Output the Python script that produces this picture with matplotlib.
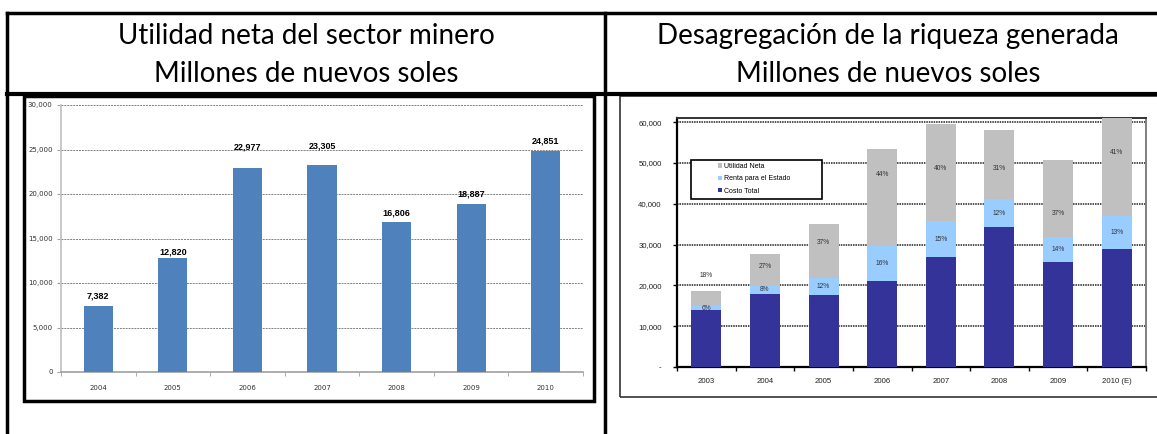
import matplotlib
matplotlib.use('Agg')
import matplotlib.pyplot as plt
from matplotlib.lines import Line2D
from matplotlib.patches import Rectangle
from matplotlib.ticker import FuncFormatter, FixedLocator
import numpy as np

W, H = 1157, 434

# left chart data: utilidad neta (millones de nuevos soles)
years_left = ['2004', '2005', '2006', '2007', '2008', '2009', '2010']
utilidad_neta = [7382, 12820, 22977, 23305, 16806, 18887, 24851]
pos_lab_left = [8500, 13460, 25300, 25400, 17850, 19950, 25900]

# right chart data: desagregacion de la riqueza
years_right = ['2003', '2004', '2005', '2006', '2007', '2008', '2009', '2010 (E)']
costo_total = [13900, 17800, 17600, 21000, 26900, 34300, 25700, 28900]
renta_estado = [1100, 2150, 4300, 8700, 8750, 6800, 6100, 8100]
utilidad = [3600, 7650, 13100, 23700, 23850, 16950, 18900, 24100]
pct_renta = ['6%', '8%', '12%', '16%', '15%', '12%', '14%', '13%']
pct_util = ['18%', '27%', '37%', '44%', '40%', '31%', '37%', '41%']
pos_pct_util = [22300, 24500, 30400, 47100, 48600, 48600, 37500, 52600]


def px_rect(x0, y0, x1, y1):
    # pixel box (top-left origin) -> figure fraction rect
    return [x0 / W, 1 - y1 / H, (x1 - x0) / W, (y1 - y0) / H]


def fline(x0, y0, x1, y1, lw=2.5, color='black'):
    fig.add_artist(Line2D([x0 / W, x1 / W], [1 - y0 / H, 1 - y1 / H],
                          lw=lw, color=color, solid_capstyle='projecting'))


fig = plt.figure(figsize=(W / 100, H / 100), dpi=100)

# table lines
fline(7, 13, W, 13)
fline(7, 94, W, 94, lw=3)
fline(7, 13, 7, H)
fline(605, 13, 605, H)

# titles
tfont = dict(family='Lato', fontsize=20, ha='center', va='center')
fig.text(306 / W, 1 - 36 / H, 'Utilidad neta del sector minero', **tfont)
fig.text(306 / W, 1 - 74 / H, 'Millones de nuevos soles', **tfont)
fig.text(888 / W, 1 - 36 / H, 'Desagregación de la riqueza generada', **tfont)
fig.text(888 / W, 1 - 74 / H, 'Millones de nuevos soles', **tfont)

# chart frames
fig.add_artist(Rectangle((24 / W, 1 - 401 / H), 570 / W, 305 / H,
                         transform=fig.transFigure, fill=False, lw=2.5, ec='black'))
fig.add_artist(Rectangle((620 / W, 1 - 397 / H), 560 / W, 301 / H,
                         transform=fig.transFigure, fill=False, lw=1.2, ec='#333333'))

# ---- left chart ----
ax1 = fig.add_axes(px_rect(61, 105, 583, 372))
x1 = np.arange(len(years_left))
ax1.bar(x1, utilidad_neta, width=0.39, color='#4F81BD', zorder=3)
for xi, v in zip(x1, utilidad_neta):
    ax1.text(xi, pos_lab_left[xi], f'{v:,}', ha='center', va='center', fontsize=6.5,
             fontweight='bold', family='Liberation Sans', zorder=4)
ax1.set_xlim(-0.5, len(years_left) - 0.5)
ax1.set_ylim(0, 30000)
ax1.set_yticks(np.arange(0, 30001, 5000))
ax1.yaxis.set_major_formatter(FuncFormatter(lambda v, p: f'{int(v):,}'))
ax1.set_xticks(x1)
ax1.set_xticklabels(years_left)
ax1.xaxis.set_minor_locator(FixedLocator(np.arange(-0.5, len(years_left), 1)))
ax1.tick_params(axis='x', which='major', length=0, pad=9, labelsize=5, labelcolor='#333333')
ax1.tick_params(axis='x', which='minor', length=3, color='#A0A0A0')
ax1.tick_params(axis='y', length=3, color='#A0A0A0', labelsize=5, labelcolor='#333333', pad=3)
ax1.grid(axis='y', ls=(0, (2, 1)), color='#808080', lw=0.7, zorder=0)
for s in ['top', 'right']:
    ax1.spines[s].set_visible(False)
ax1.spines['left'].set_color('#BFBFBF')
ax1.spines['bottom'].set_color('#A0A0A0')
ax1.spines['left'].set_linewidth(1.2)
ax1.spines['bottom'].set_linewidth(1.2)

# ---- right chart ----
ax2 = fig.add_axes(px_rect(677, 118, 1146, 367))
x2 = np.arange(len(years_right))
bw = 0.51
b1 = ax2.bar(x2, costo_total, width=bw, color='#333399', zorder=3, label='Costo Total')
bottom2 = np.array(costo_total)
b2 = ax2.bar(x2, renta_estado, width=bw, bottom=bottom2, color='#99CCFF', zorder=3,
             label='Renta para el Estado')
bottom3 = bottom2 + np.array(renta_estado)
b3 = ax2.bar(x2, utilidad, width=bw, bottom=bottom3, color='#C0C0C0', zorder=3,
             label='Utilidad Neta')
for xi in x2:
    ax2.text(xi, bottom2[xi] + renta_estado[xi] / 2, pct_renta[xi], ha='center', va='center',
             fontsize=4.8, color='#333333', family='Liberation Sans', zorder=4)
    ax2.text(xi, pos_pct_util[xi], pct_util[xi], ha='center', va='center',
             fontsize=4.8, color='#333333', family='Liberation Sans', zorder=4)
ax2.set_xlim(-0.5, len(years_right) - 0.5)
ax2.set_ylim(0, 61000)
ax2.set_yticks(np.arange(0, 60001, 10000))
ax2.yaxis.set_major_formatter(FuncFormatter(lambda v, p: '-' if v == 0 else f'{int(v):,}'))
ax2.set_xticks(x2)
ax2.set_xticklabels(years_right)
ax2.xaxis.set_minor_locator(FixedLocator(np.arange(-0.5, len(years_right), 1)))
ax2.tick_params(axis='x', which='major', length=0, pad=8, labelsize=5.6, labelcolor='#222222')
ax2.tick_params(axis='x', which='minor', length=3, width=1)
ax2.tick_params(axis='y', length=3, width=1, labelsize=5.6, labelcolor='#222222', pad=8)
for lab in ax2.get_xticklabels() + ax2.get_yticklabels():
    lab.set_family('Liberation Sans')
ax2.grid(axis='y', ls=(0, (1, 0.6)), color='#222222', lw=1.1, zorder=0)
ax2.spines['left'].set_linewidth(1.6)
ax2.spines['bottom'].set_linewidth(1.6)
ax2.spines['top'].set_color('#333333')
ax2.spines['top'].set_linewidth(1.4)
ax2.spines['right'].set_color('#808080')
ax2.spines['right'].set_linewidth(1.4)

# legend box (white, over the gridlines) and entries
frame = Rectangle((691 / W, 1 - 199 / H), 131 / W, 39 / H, transform=fig.transFigure,
                  fc='white', ec='black', lw=1.2, zorder=4.5, clip_on=False)
ax2.add_patch(frame)
leg = ax2.legend(handles=[b3, b2, b1], loc='upper left',
                 bbox_to_anchor=((716 - 677) / 469, 1 - (161 - 118) / 249),
                 frameon=False, handlelength=0.6, handleheight=0.6,
                 handletextpad=0.3, labelspacing=0.75, borderaxespad=0, borderpad=0.3,
                 prop={'family': 'Liberation Sans', 'size': 5})
leg.set_zorder(6)

fig.savefig('out.png', dpi=100)
